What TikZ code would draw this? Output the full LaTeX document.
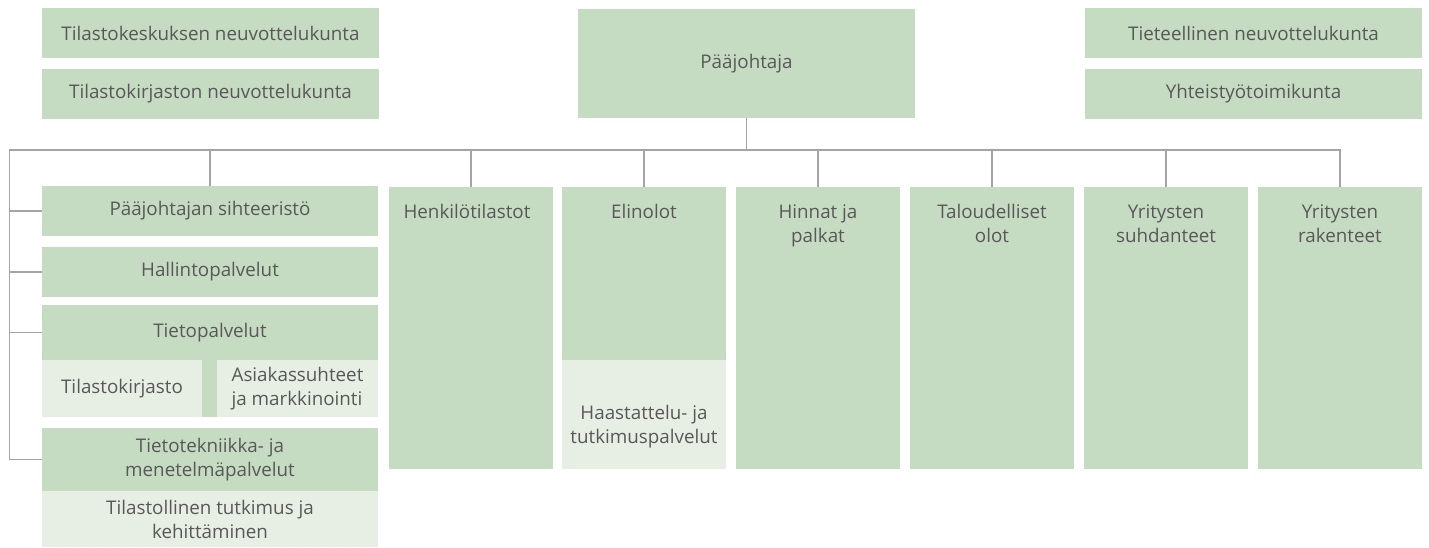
\documentclass[tikz,border=0pt]{standalone}
\usepackage{fontspec}
\setmainfont{Open Sans}
\definecolor{dgreen}{HTML}{C6DCC2}
\definecolor{lgreen}{HTML}{E7EFE5}
\definecolor{txtgray}{HTML}{585858}
\definecolor{linegray}{HTML}{A4A4A4}

\begin{document}
\begin{tikzpicture}[x=1pt,y=-1pt,
	every node/.style={inner sep=0pt, text=txtgray, align=center, font=\fontsize{18.8}{24}\selectfont},
	box/.style={fill=dgreen, minimum width=337pt, minimum height=50pt},
	col/.style={fill=dgreen, minimum width=164pt, minimum height=282pt, anchor=north},
	sub/.style={fill=lgreen},
	coltext/.style={anchor=north, yshift=-17pt},
	conn/.style={draw=linegray, line width=1.9pt}]
	
	\useasboundingbox (0,0) rectangle (1429,547);
	
	\node[box] (tkn) at (210.5,33) {Tilastokeskuksen neuvottelukunta};
	\node[box] (tkirn) at (210.5,93.5) {Tilastokirjaston neuvottelukunta};
	\node[box, minimum height=109pt] (paa) at (746.5,63.5) {Pääjohtaja};
	\node[box] (tiet) at (1253.5,33) {Tieteellinen neuvottelukunta};
	\node[box] (yht) at (1253.5,93.5) {Yhteistyötoimikunta};
	
	\node[box, minimum width=336pt] (sih) at (210,211) {Pääjohtajan sihteeristö};
	\node[box, minimum width=336pt] (hal) at (210,272) {Hallintopalvelut};
	\node[box, minimum width=336pt, minimum height=55pt] (tieto) at (210,332.5) {Tietopalvelut};
	\fill[dgreen] (42,360) rectangle (378,417);
	\node[sub, minimum width=160pt, minimum height=57pt] (tkir) at (122,388.5) {Tilastokirjasto};
	\node[sub, minimum width=161pt, minimum height=57pt, align=left] (asiak) at (297.5,388.5) {Asiakassuhteet\\ja markkinointi};
	\node[box, minimum width=336pt, minimum height=63pt] (ttek) at (210,459.5) {Tietotekniikka- ja\\menetelmäpalvelut};
	\node[sub, minimum width=336pt, minimum height=56pt] (ttut) at (210,519) {Tilastollinen tutkimus ja\\kehittäminen};
	
	\node[col] (henk) at (471,187) {};
	\node[col] (elin) at (644,187) {};
	\node[col] (hin) at (818,187) {};
	\node[col] (tal) at (992,187) {};
	\node[col] (ysuh) at (1166,187) {};
	\node[col] (yrak) at (1340,187) {};
	\node[sub, minimum width=164pt, minimum height=109pt] (haast) at (644,414.5) {};
	
	\node[coltext, xshift=-4pt] (henk-t) at (henk.north) {Henkilötilastot};
	\node[coltext] (elin-t) at (elin.north) {Elinolot};
	\node[coltext] (hin-t) at (hin.north) {Hinnat ja\\palkat};
	\node[coltext] (tal-t) at (tal.north) {Taloudelliset\\olot};
	\node[coltext] (ysuh-t) at (ysuh.north) {Yritysten\\suhdanteet};
	\node[coltext] (yrak-t) at (yrak.north) {Yritysten\\rakenteet};
	\node (haast-t) at (644,427) {Haastattelu- ja\\tutkimuspalvelut};
	
	\coordinate (bus) at (9.5,150);
	
	\draw[conn] (paa.south) -- (paa.south |- bus);
	\draw[conn] (ttek.west) -| (bus) -| (yrak.north);
	\foreach \n in {sih,hal,tieto}
		\draw[conn] (\n.west) -- (\n.west -| bus);
	\foreach \n in {sih,henk,elin,hin,tal,ysuh}
		\draw[conn] (\n.north) -- (\n.north |- bus);
	
\end{tikzpicture}
\end{document}
